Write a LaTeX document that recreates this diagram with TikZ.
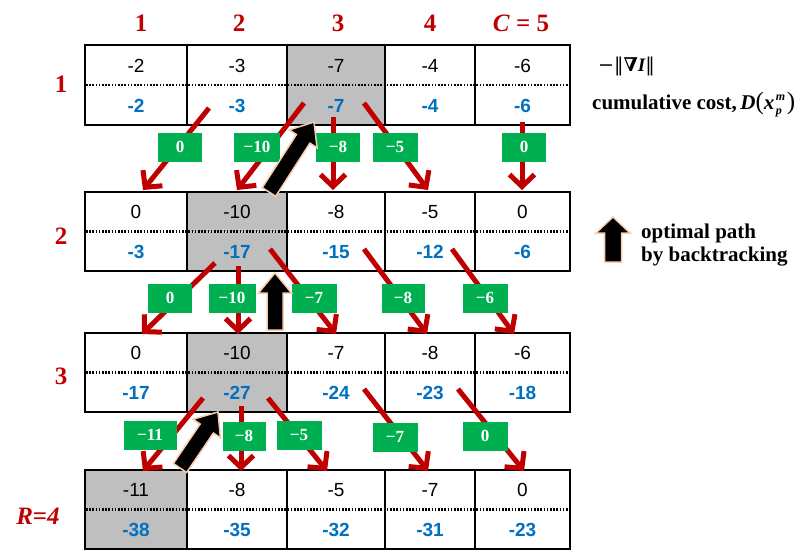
\documentclass[tikz,border=0pt]{standalone}
\usepackage{fontspec}
\setmainfont{Liberation Serif}
\newfontfamily\arialf{Liberation Sans}
\newfontfamily\djserif{DejaVu Serif}
\usetikzlibrary{arrows.meta,calc}
\definecolor{dred}{HTML}{C00000}
\definecolor{cblue}{HTML}{0070C0}
\definecolor{gbox}{HTML}{00B050}
\definecolor{cgrey}{HTML}{BFBFBF}
\definecolor{beige}{HTML}{F8CBAD}

\newcommand\costarrow[6]{%
  \coordinate (#1-s) at (#2);
  \coordinate (#1-e) at (#3);
  \draw[redarr] (#1-s) -- (#1-e);
  \node[costbox, minimum width=#6] (#1-lbl) at (#5) {#4};
}
\newcommand\blockarrow[5]{%
  \coordinate (#1-hb) at ($(#2)!#5!(#1)$);
  \draw[blockarr] ($(#1)!#3!90:(#2)$) -- ($(#1-hb)!#3!90:(#2)$) -- ($(#1-hb)!#4!90:(#2)$)
     -- (#2) -- ($(#1-hb)!#4!-90:(#2)$) -- ($(#1-hb)!#3!-90:(#2)$) -- ($(#1)!#3!-90:(#2)$) -- cycle;
}
\newcommand\bigparen[1]{{\fontsize{25}{25}\selectfont\mdseries #1}}
\newcommand\smallbi[1]{{\fontsize{12}{12}\selectfont\bfseries\itshape #1}}

\begin{document}
\begin{tikzpicture}[x=1pt,y=-1pt,
  cellbox/.style={draw=black, line width=2.5pt, inner sep=0pt, outer sep=0pt},
  dotline/.style={draw=black, line width=2.5pt, dash pattern=on 1.6pt off 1.6pt},
  topnum/.style={font=\arialf\fontsize{19}{19}\selectfont, text=black, inner sep=0pt},
  botnum/.style={font=\arialf\bfseries\fontsize{19}{19}\selectfont, text=cblue, inner sep=0pt},
  hdr/.style={text=dred, font=\bfseries\fontsize{25}{25}\selectfont, inner sep=0pt},
  costbox/.style={fill=gbox, text=white, font=\bfseries\fontsize{17}{17}\selectfont, minimum height=29pt, inner sep=0pt},
  redarr/.style={draw=dred, line width=5pt, -{Straight Barb[length=12pt,width=25pt]}},
  blockarr/.style={fill=black, draw=beige, line width=1.5pt, line join=miter},
  side/.style={font=\bfseries\fontsize{21}{23}\selectfont, inner sep=0pt, anchor=west}
]
\useasboundingbox (0,0) rectangle (809,552);
\fill[white] (0,0) rectangle (809,552);

% grey cells
\fill[cgrey] (287,45) rectangle (385,125);
\fill[cgrey] (187,192) rectangle (287,271);
\fill[cgrey] (187,333) rectangle (287,412);
\fill[cgrey] (85,470) rectangle (187,549);

% cells
\foreach \r/\ya/\yb in {1/45/125, 2/192/271, 3/333/412, 4/470/549} {
  \foreach \c/\xa/\xb in {1/85/187, 2/187/287, 3/287/385, 4/385/475, 5/475/570} {
    \node[cellbox, minimum width={(\xb-\xa)*1pt}, minimum height={(\yb-\ya)*1pt}]
      (cell-\r-\c) at ({(\xa+\xb)/2},{(\ya+\yb)/2}) {};
  }
  \draw[dotline] (86,{(\ya+\yb)/2}) -- (569,{(\ya+\yb)/2});
}

% values
\foreach \c/\t/\b in {1/-2/-2, 2/-3/-3, 3/-7/-7, 4/-4/-4, 5/-6/-6} {
  \node[topnum] (t-1-\c) at ($(cell-1-\c.north)+(0,21)$) {\t};
  \node[botnum] (b-1-\c) at ($(cell-1-\c.north)+(0,61)$) {\b};
}
\foreach \c/\t/\b in {1/0/-3, 2/-10/-17, 3/-8/-15, 4/-5/-12, 5/0/-6} {
  \node[topnum] (t-2-\c) at ($(cell-2-\c.north)+(0,20)$) {\t};
  \node[botnum] (b-2-\c) at ($(cell-2-\c.north)+(0,60)$) {\b};
}
\foreach \c/\t/\b in {1/0/-17, 2/-10/-27, 3/-7/-24, 4/-8/-23, 5/-6/-18} {
  \node[topnum] (t-3-\c) at ($(cell-3-\c.north)+(0,20)$) {\t};
  \node[botnum] (b-3-\c) at ($(cell-3-\c.north)+(0,60)$) {\b};
}
\foreach \c/\t/\b in {1/-11/-38, 2/-8/-35, 3/-5/-32, 4/-7/-31, 5/0/-23} {
  \node[topnum] (t-4-\c) at ($(cell-4-\c.north)+(0,20)$) {\t};
  \node[botnum] (b-4-\c) at ($(cell-4-\c.north)+(0,60)$) {\b};
}

% headers
\node[hdr] (h1) at (141,23) {1};
\node[hdr] (h2) at (239,23) {2};
\node[hdr] (h3) at (338,23) {3};
\node[hdr] (h4) at (430,23) {4};
\node[hdr] (h5) at (521,23) {\textit{C} = 5};
\node[hdr] (r1) at (61,84) {1};
\node[hdr] (r2) at (61,236) {2};
\node[hdr] (r3) at (61,376) {3};
\node[hdr] (r4) at (38,516) {\textit{R}=\textit{4}};

% cost arrows
\costarrow{a1}{209,108}{143,190}{0}{180,147}{44pt}
\costarrow{a2}{304,103}{237,190}{−10}{257,147}{46pt}
\costarrow{a3}{333,117}{333,190}{−8}{338,147}{44pt}
\costarrow{a4}{364,103}{428,190}{−5}{395,147}{45pt}
\costarrow{a5}{522,122}{522,190}{0}{524,147}{44pt}

\costarrow{b1}{215,263}{142,334}{0}{170,298}{44pt}
\costarrow{b2}{238,266}{238,334}{−10}{232,298}{47pt}
\costarrow{b3}{270,249}{336,334}{−7}{314,298}{45pt}
\costarrow{b4}{364,249}{427,334}{−8}{403,298}{43pt}
\costarrow{b5}{452,249}{514,334}{−6}{485,298}{45pt}

\costarrow{c1}{203,398}{143,471}{−11}{150,435}{53pt}
\costarrow{c2}{241,406}{241,471}{−8}{244,436}{43pt}
\costarrow{c3}{268,398}{327,471}{−5}{299,435}{45pt}
\costarrow{c4}{364,389}{428,471}{−7}{395,437}{45pt}
\costarrow{c5}{458,389}{524,471}{0}{485,436}{45pt}

% backtracking arrows
\coordinate (k1-tail) at (269,192);
\coordinate (k1-tip) at (314,122);
\blockarrow{k1-tail}{k1-tip}{8pt}{16.5pt}{20pt}
\coordinate (k2-tail) at (275,330);
\coordinate (k2-tip) at (275,273);
\blockarrow{k2-tail}{k2-tip}{8pt}{16.5pt}{20pt}
\coordinate (k3-tail) at (180,468);
\coordinate (k3-tip) at (218,412);
\blockarrow{k3-tail}{k3-tip}{8pt}{16.5pt}{20pt}

% legend
\node[anchor=west, inner sep=0pt, font=\fontsize{19}{19}\selectfont] (gradlbl) at (598,66)
  {{\djserif −‖}{\djserif\bfseries ∇}{\bfseries\itshape I}{\djserif ‖}};
\node[side] (costlbl) at (592,105)
  {cumulative cost,\,{\itshape D}\bigparen{(}{\itshape x}\kern1.5pt\rlap{\raisebox{9pt}{\smallbi{m}}}\raisebox{-5pt}{\smallbi{p}}\kern5pt\bigparen{)}};
\coordinate (lg-tail) at (613,262);
\coordinate (lg-tip) at (613,217);
\blockarrow{lg-tail}{lg-tip}{8.5pt}{17pt}{16pt}
\node[side, align=left] (pathlbl) at (641,245) {optimal path\\by backtracking};
\end{tikzpicture}
\end{document}
